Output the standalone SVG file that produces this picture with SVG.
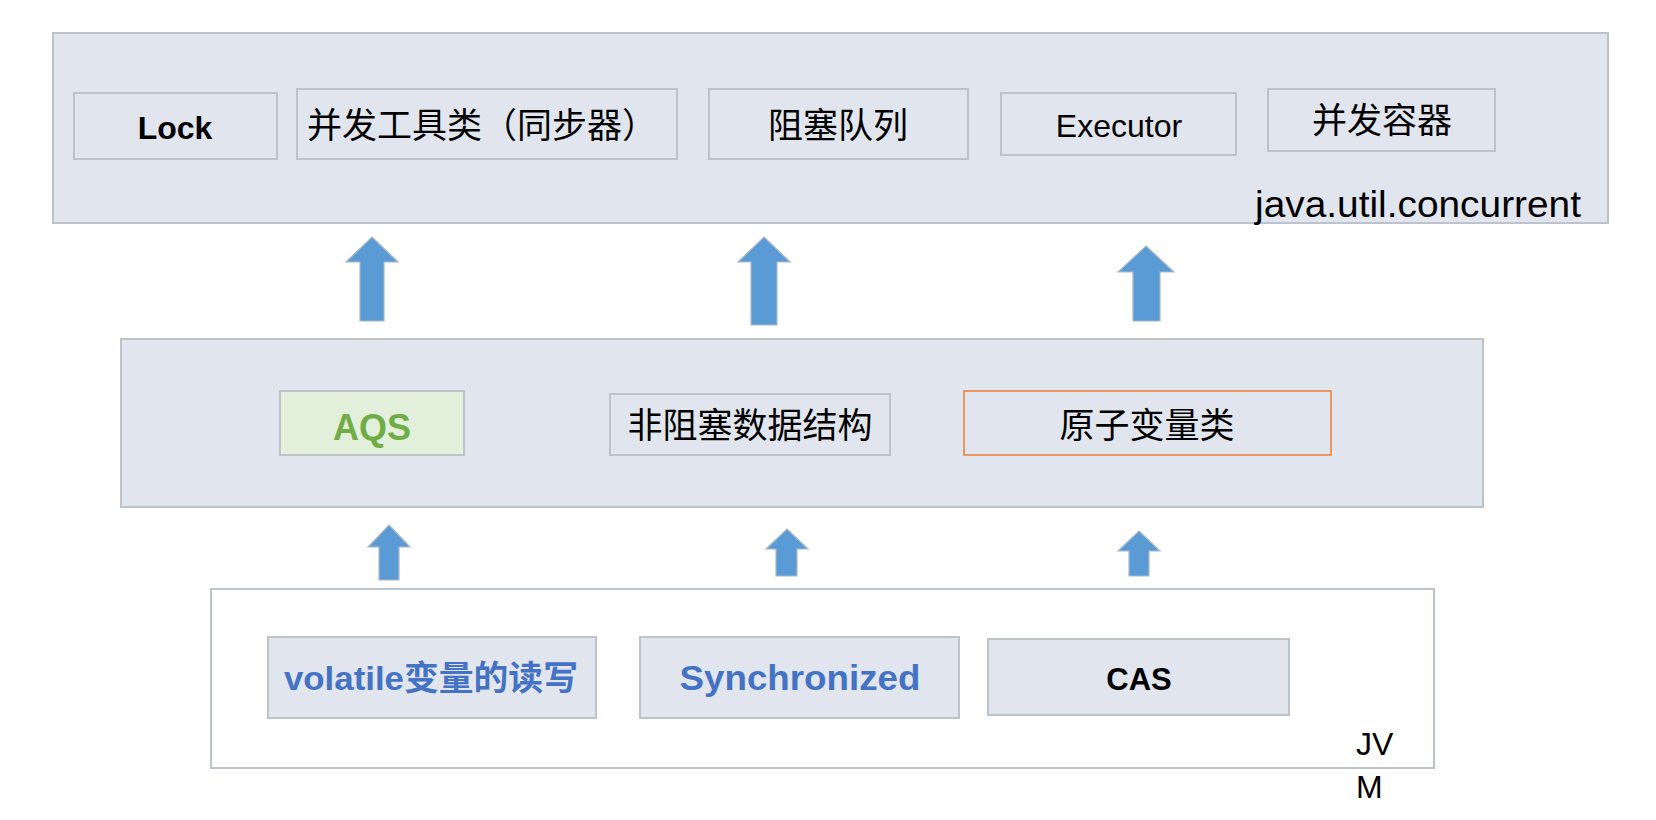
<svg xmlns="http://www.w3.org/2000/svg" width="1656" height="820" viewBox="0 0 1656 820">
<style>
.bg{fill:#E1E6EE;stroke:#BEC2CB;stroke-width:2}
.bx{fill:#E1E6EE;stroke:#BEC2CB;stroke-width:2}
.wh{fill:#FFFFFF;stroke:#BEC2CB;stroke-width:2}
.ar{fill:#5B9BD5;stroke:#A9B8CB;stroke-width:1.2}
text{font-family:"Liberation Sans","Noto Sans CJK SC",sans-serif;text-anchor:middle;fill:#000}
.cj{font-size:35px}
.b{font-weight:bold}
</style>
<g id="juc">
<rect class="bg" x="53" y="33" width="1555" height="190"/>
<text x="1418" y="217" style="font-size:37px" textLength="326" lengthAdjust="spacingAndGlyphs">java.util.concurrent</text>
</g>
<g id="lock"><rect class="bx" x="74" y="93" width="203" height="66"/><text class="b" x="175" y="139" style="font-size:32px">Lock</text></g>
<g id="tools"><rect class="bx" x="297" y="89" width="380" height="70"/><text class="cj" x="482" y="138">并发工具类（同步器）</text></g>
<g id="bq"><rect class="bx" x="709" y="89" width="259" height="70"/><text class="cj" x="838" y="138">阻塞队列</text></g>
<g id="executor"><rect class="bx" x="1001" y="93" width="235" height="62"/><text x="1119" y="137" style="font-size:32px">Executor</text></g>
<g id="containers"><rect class="bx" x="1268" y="89" width="227" height="62"/><text class="cj" x="1382" y="133">并发容器</text></g>
<g id="mid"><rect class="bg" x="121" y="339" width="1362" height="168"/></g>
<g id="aqs"><rect x="280" y="391" width="184" height="64" style="fill:#E2EFDA;stroke:#BEC2CB;stroke-width:2"/><text class="b" x="372" y="440" style="font-size:36px;fill:#70AD47">AQS</text></g>
<g id="nbds"><rect class="bx" x="610" y="394" width="280" height="61"/><text class="cj" x="750" y="438">非阻塞数据结构</text></g>
<g id="atomic"><rect x="964" y="391" width="367" height="64" style="fill:#E1E6EE;stroke:#ED7D31;stroke-width:1.5"/><text class="cj" x="1147" y="438">原子变量类</text></g>
<g id="jvm">
<rect class="wh" x="211" y="589" width="1223" height="179"/>
<text x="1356" y="755" style="font-size:32px;text-anchor:start">JV</text>
<text x="1356" y="798" style="font-size:32px;text-anchor:start">M</text>
</g>
<g id="volatile"><rect class="bx" x="268" y="637" width="328" height="81"/><text class="b" x="431" y="690" style="font-size:34px;fill:#4472C4" textLength="294" lengthAdjust="spacingAndGlyphs">volatile变量的读写</text></g>
<g id="sync"><rect class="bx" x="640" y="637" width="319" height="81"/><text class="b" x="800" y="690" style="font-size:35px;fill:#4472C4" textLength="241" lengthAdjust="spacingAndGlyphs">Synchronized</text></g>
<g id="cas"><rect class="bx" x="988" y="639" width="301" height="76"/><text class="b" x="1139" y="690" style="font-size:31px">CAS</text></g>
<g id="connectors">
<path class="ar" d="M372,237 L398,262 L384,262 L384,321 L360,321 L360,262 L346,262 Z"/>
<path class="ar" d="M764,237 L790,262 L777,262 L777,325 L751,325 L751,262 L738,262 Z"/>
<path class="ar" d="M1146,246 L1174,272 L1160,272 L1160,321 L1133,321 L1133,272 L1118,272 Z"/>
<path class="ar" d="M389,525 L410,547 L399,547 L399,580 L379,580 L379,547 L368,547 Z"/>
<path class="ar" d="M787,529 L808,549 L797,549 L797,576 L776,576 L776,549 L766,549 Z"/>
<path class="ar" d="M1139,531 L1160,551 L1149,551 L1149,576 L1129,576 L1129,551 L1118,551 Z"/>
</g>
</svg>
